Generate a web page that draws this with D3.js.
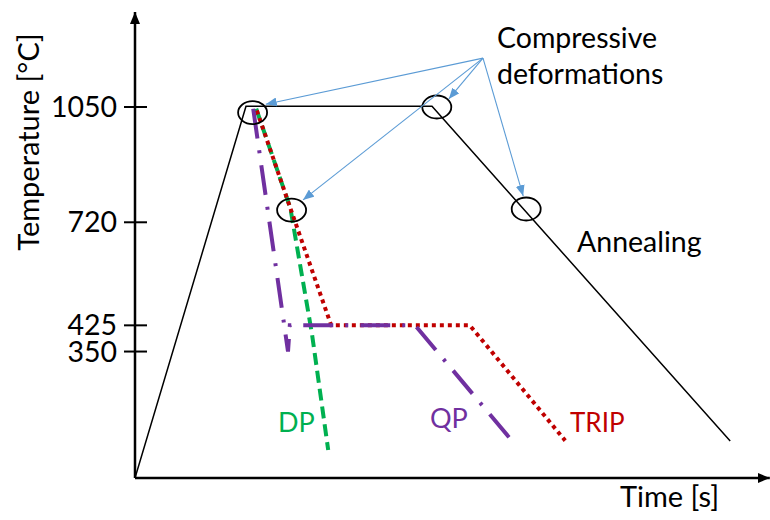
<!DOCTYPE html>
<html><head><meta charset="utf-8">
<script src="https://cdn.jsdelivr.net/npm/d3@7"></script>
<style>body{margin:0;background:#fff}</style>
</head><body><svg id="c" width="770" height="520"></svg>
<script>
// ---- data (time in arbitrary units, temperature in °C) ----
const tickTemps = [1050, 720, 425, 350];
const tickLabels = ["1050", "720", "425", "350"];
const axisTimeMax = 105.8;
const axisTempMin = -12;
const axisTempMax = 1322;

const annealTime = [0, 18.5, 49.5, 99.2];
const annealTemp = [-12, 1052, 1052, 94];

const dpTime = [20.2, 25.9, 29.5, 32.2];
const dpTemp = [1045, 760, 400, 68];

const tripTime = [20.3, 25.9, 32.7, 55.8, 71.7];
const tripTemp = [1040, 760, 425, 425, 95];

const qpTime = [19.7, 25.5, 25.8, 46.7, 62.8];
const qpTemp = [1045, 350, 425, 425, 95];

const circleTime = [19.6, 50.3, 26.1, 65.2];
const circleTemp = [1034, 1050, 755, 758];

const arrowSrcTime = 58;
const arrowSrcTemp = 1190;
const arrowTipTime = [21.8, 52.3, 28.0, 64.7];
const arrowTipTemp = [1058, 1073, 784, 795];

// ---- drawing ----
const svg = d3.select("#c");
const font = "Lato, 'Open Sans', sans-serif";
const x = d3.scaleLinear().domain([0, 100]).range([135, 735]);
const y = d3.scaleLinear().domain([axisTempMin, 1050]).range([478, 107]);

const defs = svg.append("defs");
function marker(id, color, w, h) {
  defs.append("marker").attr("id", id)
    .attr("viewBox", `0 0 ${w} ${h}`).attr("refX", w).attr("refY", h / 2)
    .attr("markerWidth", w).attr("markerHeight", h)
    .attr("markerUnits", "userSpaceOnUse").attr("orient", "auto")
    .append("path").attr("d", `M0,0L${w},${h/2}L0,${h}Z`).attr("fill", color);
}
marker("ax", "#000", 12, 10);
marker("bl", "#5b9bd5", 11, 9);

// axes
svg.append("line")
  .attr("x1", x(0)).attr("y1", y(axisTempMin)).attr("x2", x(0)).attr("y2", y(axisTempMax))
  .attr("stroke", "#000").attr("stroke-width", 2.5).attr("marker-end", "url(#ax)");
svg.append("line")
  .attr("x1", x(0)).attr("y1", y(axisTempMin)).attr("x2", x(axisTimeMax)).attr("y2", y(axisTempMin))
  .attr("stroke", "#000").attr("stroke-width", 2.5).attr("marker-end", "url(#ax)");

// ticks
const ticks = svg.append("g");
ticks.selectAll("line").data(tickTemps).join("line")
  .attr("x1", x(0) - 11).attr("x2", x(0) + 12)
  .attr("y1", d => y(d)).attr("y2", d => y(d))
  .attr("stroke", "#000").attr("stroke-width", 2);
ticks.selectAll("text").data(tickTemps).join("text")
  .attr("x", x(0) - 18).attr("y", d => y(d) + 10)
  .attr("text-anchor", "end").attr("font-family", font).attr("font-size", 28.5)
  .attr("fill", "#000").text((d, i) => tickLabels[i]);

svg.append("text").attr("transform", "translate(39,142) rotate(-90)")
  .attr("text-anchor", "middle").attr("font-family", font).attr("font-size", 29)
  .text("Temperature [°C]");
svg.append("text").attr("x", 620).attr("y", 507)
  .attr("font-family", font).attr("font-size", 29).text("Time [s]");

const line = (ts, vs) => d3.line()(ts.map((t, i) => [x(t), y(vs[i])]));

// annealing path
svg.append("path").attr("d", line(annealTime, annealTemp))
  .attr("fill", "none").attr("stroke", "#000").attr("stroke-width", 1.5);

// DP
svg.append("path").attr("d", line(dpTime, dpTemp))
  .attr("fill", "none").attr("stroke", "#00b050").attr("stroke-width", 4)
  .attr("stroke-dasharray", "12,6");
// TRIP
svg.append("path").attr("d", line(tripTime, tripTemp))
  .attr("fill", "none").attr("stroke", "#c00000").attr("stroke-width", 4)
  .attr("stroke-dasharray", "4,4");
// QP
svg.append("path").attr("d", line(qpTime, qpTemp))
  .attr("fill", "none").attr("stroke", "#7030a0").attr("stroke-width", 4)
  .attr("stroke-dasharray", "30,12,3,12");

// circles
svg.append("g").selectAll("ellipse").data(circleTime).join("ellipse")
  .attr("cx", d => x(d)).attr("cy", (d, i) => y(circleTemp[i]))
  .attr("rx", 14.5).attr("ry", 11.5)
  .attr("fill", "none").attr("stroke", "#000").attr("stroke-width", 1.8);

// arrows
svg.append("g").selectAll("line").data(arrowTipTime).join("line")
  .attr("x1", x(arrowSrcTime)).attr("y1", y(arrowSrcTemp))
  .attr("x2", d => x(d)).attr("y2", (d, i) => y(arrowTipTemp[i]))
  .attr("stroke", "#5b9bd5").attr("stroke-width", 1.1).attr("marker-end", "url(#bl)");

// labels
const lab = (t, xx, yy, c, fs) => svg.append("text").attr("x", xx).attr("y", yy)
  .attr("font-family", font).attr("font-size", fs).attr("fill", c).text(t);
lab("Compressive", 497, 48, "#000", 28.5);
lab("deformations", 497, 84, "#000", 28.5);
lab("Annealing", 577, 252, "#000", 28.5);
lab("DP", 278, 432, "#00b050", 27);
lab("QP", 430, 428, "#7030a0", 27);
lab("TRIP", 570, 432, "#c00000", 26);
</script></body></html>
